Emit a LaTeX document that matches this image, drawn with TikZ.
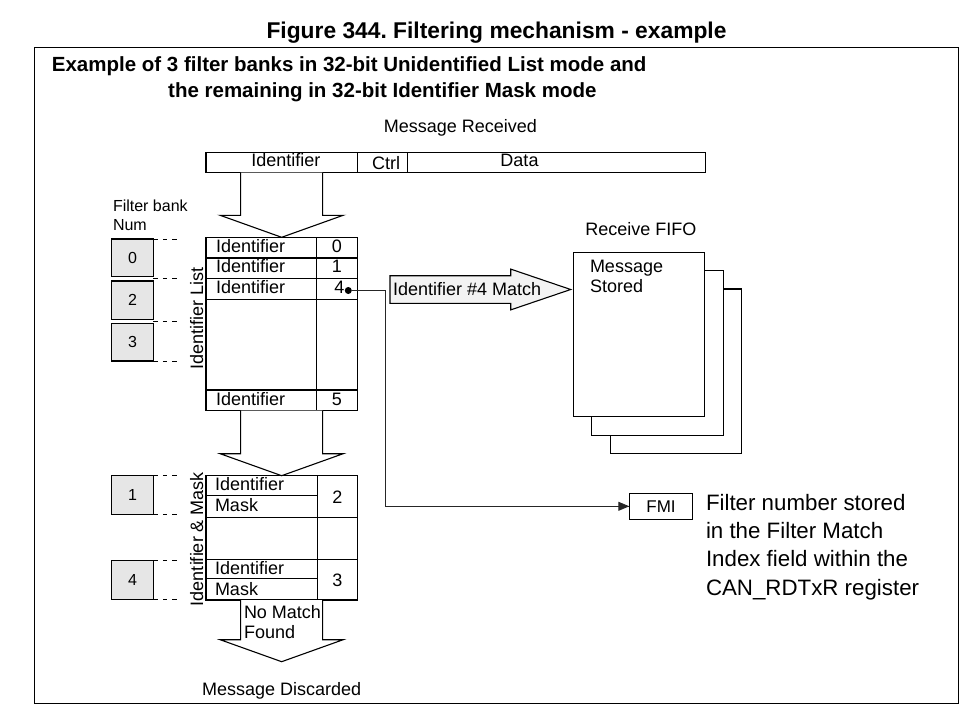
\documentclass[tikz,border=0pt]{standalone}
\usepackage{fontspec}
\setmainfont{Liberation Sans}
\usetikzlibrary{arrows.meta,calc}
\definecolor{bankfill}{RGB}{230,230,230}
\definecolor{matchfill}{RGB}{243,243,243}
\newcommand{\cellbox}[6][]{\node[cell,minimum width={#5-#3},minimum height={#6-#4},#1] (#2) at (#3,#4) {};}
\newcommand{\fatdown}[2]{\draw[bigarrow] ($(#1)+(-41,0)$) -- ($(#2)+(-41,-22)$) -- ($(#2)+(-61.5,-22)$) -- (#2) -- ($(#2)+(61.5,-22)$) -- ($(#2)+(41,-22)$) -- ($(#1)+(41,0)$);}
\frenchspacing
\begin{document}
\begin{tikzpicture}[x=1pt,y=-1pt,
  cell/.style={draw, line width=1.1pt, inner sep=0, outer sep=0, anchor=north west},
  lbl/.style={inner sep=0, outer sep=0, font=\fontsize{18}{21}\selectfont},
  small/.style={inner sep=0, outer sep=0, font=\fontsize{16}{19}\selectfont},
  big/.style={inner sep=0, outer sep=0, font=\fontsize{22.3}{28}\selectfont, anchor=base west},
  dl/.style={dash pattern=on 4.5pt off 5pt, line width=0.9pt},
  bigarrow/.style={line width=1.1pt, fill=white, line join=miter},
  conn/.style={line width=0.9pt, draw=black!85},
]
\useasboundingbox (0,0) rectangle (975,717);
\node[draw, line width=1.2pt, inner sep=0, minimum width=924.5, minimum height=656, anchor=north west] (frame) at (33.5,47) {};
% titles
\node[inner sep=0, font=\bfseries\fontsize{22.8}{27}\selectfont, anchor=base] (title) at (496.5,39) {Figure 344. Filtering mechanism - example};
\node[inner sep=0, font=\bfseries\fontsize{20.5}{25}\selectfont, anchor=base west] (sub1) at (51.7,71.7) {Example of 3 filter banks in 32-bit Unidentified List mode and};
\node[inner sep=0, font=\bfseries\fontsize{20.5}{25}\selectfont, anchor=base west] (sub2) at (168,97) {the remaining in 32-bit Identifier Mask mode};
% message received
\node[lbl, anchor=base] (msgrx) at (460.3,132.7) {Message Received};
\cellbox{mid}{206}{152.3}{357.3}{172.7}
\cellbox{mctrl}{357.3}{152.3}{407.3}{172.7}
\cellbox{mdata}{407.3}{152.3}{705.7}{172.7}
\node[lbl,anchor=base] (tmid) at (285.8,166.7) {Identifier};
\node[lbl,anchor=base] (tmctrl) at (386,169.3) {Ctrl};
\node[lbl,anchor=base] (tmdata) at (519.5,166.7) {Data};
% identifier list table
\cellbox{la1}{206}{237.3}{316.7}{258}
\cellbox{lb1}{316.7}{237.3}{357.3}{258}
\cellbox{la2}{206}{258}{316.7}{278.3}
\cellbox{lb2}{316.7}{258}{357.3}{278.3}
\cellbox{la3}{206}{278.3}{316.7}{299.3}
\cellbox{lb3}{316.7}{278.3}{357.3}{299.3}
\cellbox{la4}{206}{299.3}{316.7}{390}
\cellbox{lb4}{316.7}{299.3}{357.3}{390}
\cellbox{la5}{206}{390}{316.7}{410.7}
\cellbox{lb5}{316.7}{390}{357.3}{410.7}
% identifier & mask table
\cellbox{mi1}{206}{475.7}{317.3}{495.7}
\cellbox{mm1}{206}{495.7}{317.3}{517.3}
\cellbox{mn1}{317.3}{475.7}{357.3}{517.3}
\cellbox{me1}{206}{517.3}{317.3}{559.3}
\cellbox{me2}{317.3}{517.3}{357.3}{559.3}
\cellbox{mi2}{206}{559.3}{317.3}{578.3}
\cellbox{mm2}{206}{578.3}{317.3}{600}
\cellbox{mn2}{317.3}{559.3}{357.3}{600}
% big down arrows
\coordinate (a1top) at (mid.south);
\coordinate (a1tip) at ($(la1.north west)!0.5!(lb1.north east)$);
\coordinate (a2top) at ($(la5.south west)!0.5!(lb5.south east)$);
\coordinate (a2tip) at ($(mi1.north west)!0.5!(mn1.north east)$);
\coordinate (a3top) at ($(mm2.south west)!0.5!(mn2.south east)$);
\coordinate (a3tip) at (281.65,661.7);
\fatdown{a1top}{a1tip}
\fatdown{a2top}{a2tip}
\fatdown{a3top}{a3tip}
% list texts
\node[lbl,anchor=base west] (tl1) at (216,252.5) {Identifier};
\node[lbl,anchor=base] (tn1) at (337,252.5) {0};
\node[lbl,anchor=base west] (tl2) at (216,272.8) {Identifier};
\node[lbl,anchor=base] (tn2) at (337,272.8) {1};
\node[lbl,anchor=base west] (tl3) at (216,293.8) {Identifier};
\node[lbl,anchor=base] (tn3) at (339.5,293.8) {4};
\node[lbl,anchor=base west] (tl5) at (216,405.2) {Identifier};
\node[lbl,anchor=base] (tn5) at (337,405.2) {5};
\node[circle, fill, inner sep=0, minimum size=7] (dot) at (348.3,290.5) {};
% mask texts
\node[lbl,anchor=base west] (tmi1) at (215,490.7) {Identifier};
\node[lbl,anchor=base west] (tmm1) at (215,511.7) {Mask};
\node[lbl,anchor=base] (tmn1) at (337.3,503) {2};
\node[lbl,anchor=base west] (tmi2) at (215,574.3) {Identifier};
\node[lbl,anchor=base west] (tmm2) at (215,595) {Mask};
\node[lbl,anchor=base] (tmn2) at (337.3,586) {3};
% rotated labels
\node[lbl, rotate=90] (tlist) at (196.7,318.3) {Identifier List};
\node[lbl, rotate=90] (tmask) at (196.7,539) {Identifier \& Mask};
% filter banks
\node[small, anchor=base west] (tfb1) at (113,211.7) {Filter bank};
\node[small, anchor=base west] (tfb2) at (113,230.7) {Num};
\cellbox[fill=bankfill]{b0}{111.7}{239}{153.3}{276.7}
\cellbox[fill=bankfill]{b2}{111.7}{281}{153.3}{319.3}
\cellbox[fill=bankfill]{b3}{111.7}{323.3}{153.3}{361}
\cellbox[fill=bankfill]{b1}{111.7}{475.7}{153.3}{514.3}
\cellbox[fill=bankfill]{b4}{111.7}{560.7}{153.3}{599.3}
\node[small] (tb0) at (b0) {0};
\node[small] (tb2) at (b2) {2};
\node[small] (tb3) at (b3) {3};
\node[small] (tb1) at (b1) {1};
\node[small] (tb4) at (b4) {4};
\draw[dl] (b0.north east) -- ++(27,0);
\draw[dl] ([yshift=-1.5pt]b0.south east) -- ++(27,0);
\draw[dl] ([yshift=-2pt]b2.south east) -- ++(27,0);
\draw[dl] (b3.south east) -- ++(27,0);
\draw[dl] (b1.north east) -- ++(27,0);
\draw[dl] (b1.south east) -- ++(27,0);
\draw[dl] (b4.north east) -- ++(27,0);
\draw[dl] (b4.south east) -- ++(27,0);
% bottom texts
\node[lbl,anchor=base west] (tnm1) at (244,618) {No Match};
\node[lbl,anchor=base west] (tnm2) at (244,638) {Found};
\node[lbl,anchor=base] (tdisc) at (281.7,695) {Message Discarded};
% receive FIFO
\cellbox[fill=white]{p3}{610.7}{289}{741.7}{453.3}
\cellbox[fill=white]{p2}{591.7}{270.7}{723.3}{435.3}
\cellbox[fill=white]{p1}{573.3}{252.3}{704.3}{416.7}
\node[lbl, anchor=base] (tfifo) at (640.8,235) {Receive FIFO};
\node[lbl, anchor=base west] (tms1) at (590,272.7) {Message};
\node[lbl, anchor=base west] (tms2) at (590,292.7) {Stored};
% match arrow
\coordinate (ms) at (390,289.5);
\coordinate (mt) at (570.7,289.5);
\draw[line width=1.1pt, fill=matchfill, line join=miter] ($(ms)+(0,-13.8)$) -- ($(mt)+(-60,-13.8)$) -- ($(mt)+(-60,-20.4)$) -- (mt) -- ($(mt)+(-60,20.4)$) -- ($(mt)+(-60,13.8)$) -- ($(ms)+(0,13.8)$) -- cycle;
\node[lbl, anchor=base west] (tmatch) at (393,295) {Identifier \#4 Match};
% FMI
\node[cell, minimum width=63.4, minimum height=26, font=\fontsize{17}{20}\selectfont, anchor=north west] (fmi) at (629.3,493.3) {FMI};
\coordinate (bend) at (385,290.5);
\draw[conn] (dot) -- (bend) |- (fmi.west);
\draw[conn, -{Triangle[length=11pt,width=9pt]}] ([xshift=-14pt]fmi.west) -- (fmi.west);
\node[big] (fn1) at (706,510) {Filter number stored};
\node[big] (fn2) at (706,538.3) {in the Filter Match};
\node[big] (fn3) at (706,566.7) {Index field within the};
\node[big] (fn4) at (706,595) {CAN\_RDTxR register};
\end{tikzpicture}
\end{document}
